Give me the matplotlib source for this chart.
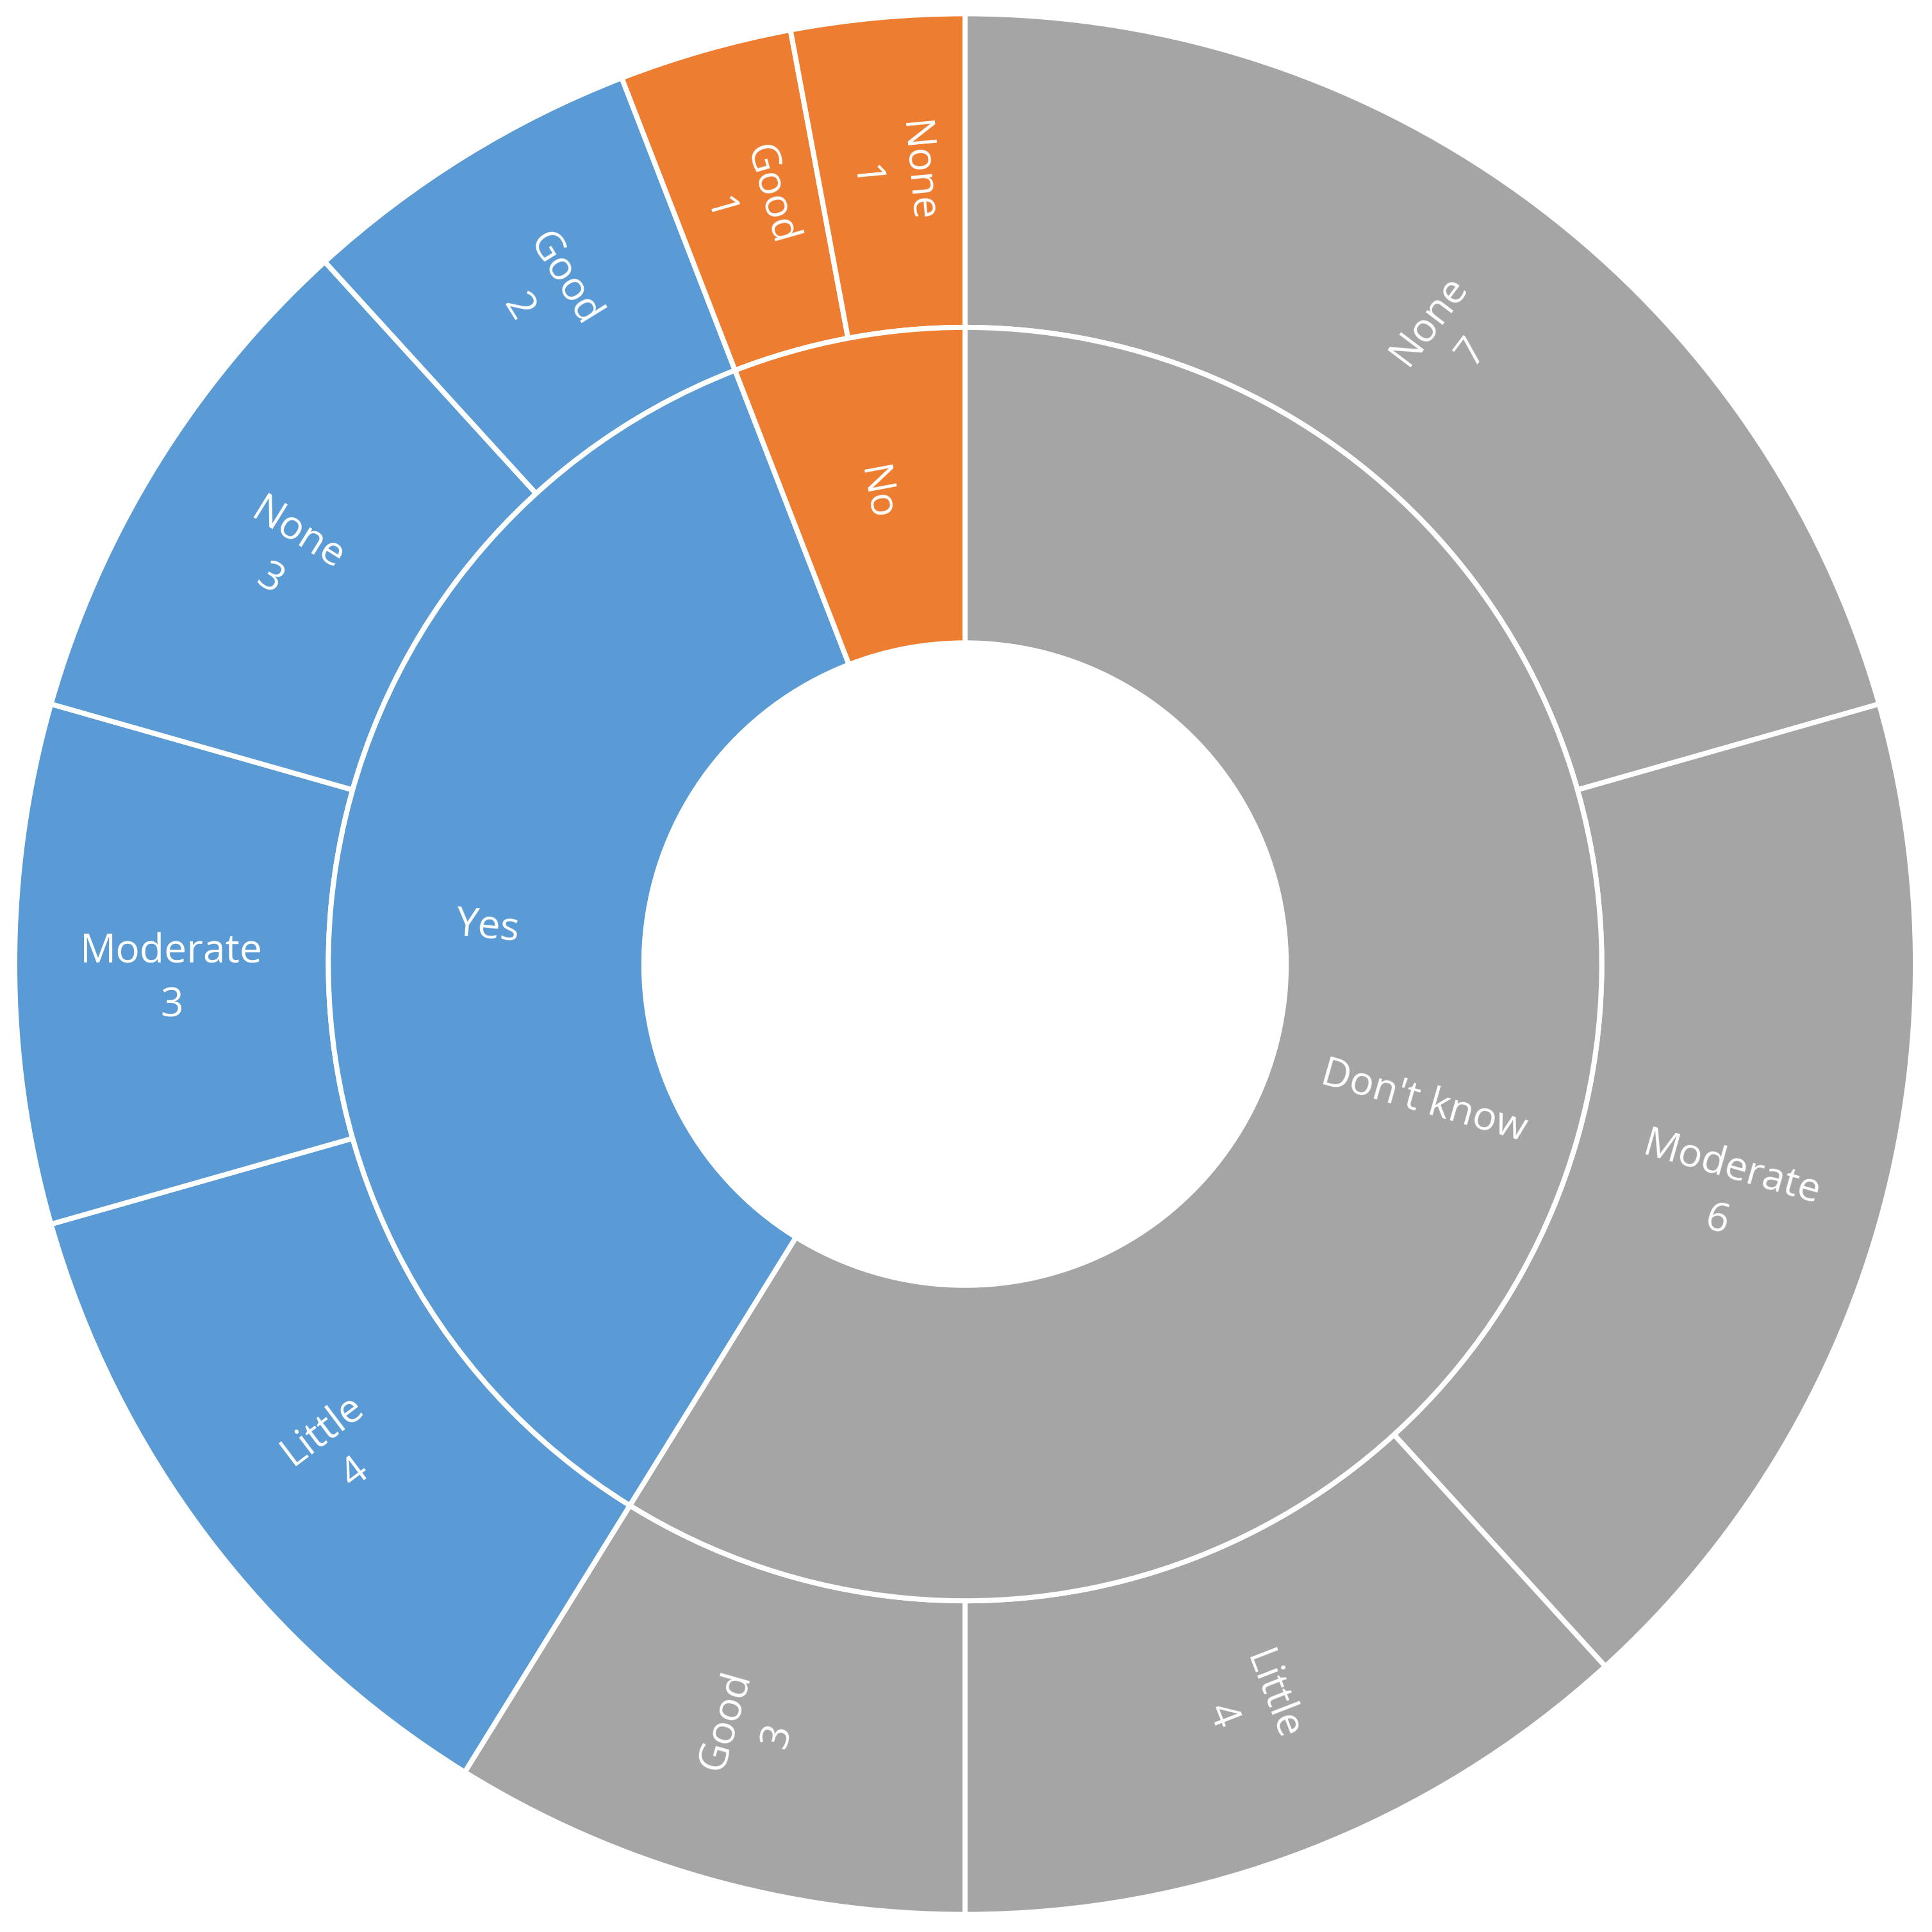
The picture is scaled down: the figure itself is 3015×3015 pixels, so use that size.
import matplotlib
matplotlib.use('Agg')
import matplotlib.pyplot as plt
import numpy as np

# inner ring (clockwise from 12 o'clock)
groups = ["Don't know", "Yes", "No"]
group_colors = ['#A5A5A5', '#5B9BD5', '#ED7D31']

# outer ring
sub_labels = ['None', 'Moderate', 'Little', 'Good',
              'Little', 'Moderate', 'None', 'Good',
              'Good', 'None']
sub_values = [7, 6, 4, 3,
              4, 3, 3, 2,
              1, 1]
sub_group = [0, 0, 0, 0, 1, 1, 1, 1, 2, 2]

group_values = [sum(v for v, g in zip(sub_values, sub_group) if g == i)
                for i in range(len(groups))]

plt.rcParams['font.family'] = ['Open Sans', 'DejaVu Sans']

fig = plt.figure(figsize=(10.05, 10.05), dpi=300)
ax = fig.add_axes([0, 0, 1, 1])

R_OUT, R_MID, R_IN = 1.0, 0.67, 0.338
edge = dict(edgecolor='white', linewidth=1.9)

outer, _ = ax.pie(sub_values, radius=R_OUT, startangle=90, counterclock=False,
                  colors=[group_colors[g] for g in sub_group],
                  wedgeprops=dict(width=R_OUT - R_MID, **edge))
inner, _ = ax.pie(group_values, radius=R_MID, startangle=90, counterclock=False,
                  colors=group_colors,
                  wedgeprops=dict(width=R_MID - R_IN, **edge))


def put_label(wedge, r, text, shift):
    ang = (wedge.theta1 + wedge.theta2) / 2.0
    rot = ang % 360
    if 90 < rot <= 270:
        rot -= 180
    elif rot > 270:
        rot -= 360
    # Excel-like nudge: mostly for near-horizontal labels
    t = np.radians(rot)
    s = shift * np.cos(t)
    x = r * np.cos(np.radians(ang)) + s * np.sin(t)
    y = r * np.sin(np.radians(ang)) - s * np.cos(t)
    ax.text(x, y, text, rotation=rot, rotation_mode='anchor',
            ha='center', va='center', color='white', fontsize=15,
            linespacing=1.45)


for w, lab, v in zip(outer, sub_labels, sub_values):
    put_label(w, (R_OUT + R_MID) / 2, f'{lab}\n{v}', 0.016)
for w, lab in zip(inner, groups):
    put_label(w, (R_MID + R_IN) / 2, lab, 0.008)

ax.set_xlim(-1.0155, 1.0175)
ax.set_ylim(-1.0185, 1.0145)
ax.set_aspect('equal')
ax.axis('off')

fig.savefig('out.png', dpi=300, facecolor='white')
plt.close(fig)
